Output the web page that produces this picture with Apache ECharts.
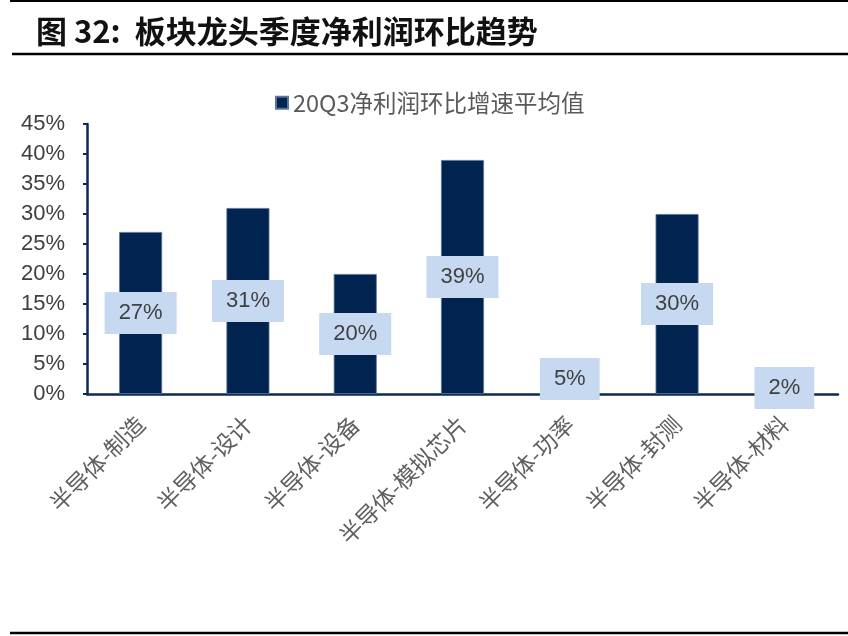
<!DOCTYPE html>
<html><head><meta charset="utf-8">
<script src="https://cdn.jsdelivr.net/npm/echarts@6/dist/echarts.min.js"></script>
<style>html,body{margin:0;padding:0;background:#fff}#c{width:848px;height:636px}</style>
</head><body><div id="c"></div>
<script>
const categories = ['半导体-制造','半导体-设计','半导体-设备','半导体-模拟芯片','半导体-功率','半导体-封测','半导体-材料'];
const values = [27, 31, 20, 39, 5, 30, 2];
const seriesName = '20Q3净利润环比增速平均值';
const yTicks = [0, 5, 10, 15, 20, 25, 30, 35, 40, 45];

const chart = echarts.init(document.getElementById('c'));
chart.setOption({
  animation: false,
  backgroundColor: '#fff',
  title: {
    text: '图 32:  板块龙头季度净利润环比趋势',
    left: 31, top: 11,
    textStyle: {fontFamily: 'Noto Sans CJK SC', fontWeight: 'bold', fontSize: 31, color: '#111'}
  },
  graphic: [
    {type: 'line', shape: {x1: 10, y1: 1, x2: 848, y2: 1}, style: {stroke: '#000', lineWidth: 2}},
    {type: 'line', shape: {x1: 12, y1: 54, x2: 848, y2: 54}, style: {stroke: '#000', lineWidth: 2.5}},
    {type: 'line', shape: {x1: 10, y1: 633, x2: 848, y2: 633}, style: {stroke: '#000', lineWidth: 2.5}}
  ],
  legend: {
    left: 270, top: 86,
    icon: 'rect', itemWidth: 12, itemHeight: 12, itemGap: 4,
    textStyle: {fontFamily: 'Noto Sans CJK SC', fontSize: 23.5, color: '#595959'},
    data: [seriesName]
  },
  grid: {left: 87, right: 10, top: 124, bottom: 242},
  xAxis: {
    type: 'category', data: categories,
    axisLine: {lineStyle: {color: '#0b2a5a', width: 2.5}},
    axisTick: {show: false},
    axisLabel: {rotate: 45, interval: 0, margin: 26, fontFamily: 'Noto Sans CJK SC', fontSize: 23, color: '#5f5f5f'}
  },
  yAxis: {
    type: 'value', min: 0, max: 45, interval: 5,
    splitLine: {show: false},
    axisLine: {show: true, lineStyle: {color: '#0b2a5a', width: 2.5}},
    axisTick: {show: true, length: 4, lineStyle: {color: '#0b2a5a', width: 2}},
    axisLabel: {margin: 22, fontFamily: 'Arial, Liberation Sans', fontSize: 22, color: '#404040',
      formatter: v => yTicks.includes(v) ? v + '%' : ''}
  },
  series: [{
    name: seriesName, type: 'bar', data: values, barWidth: 43,
    itemStyle: {color: '#00234F', borderColor: '#5a7598', borderWidth: 0.8},
    label: {
      show: true, position: 'inside', formatter: p => p.value + '%',
      backgroundColor: '#C6D9F1', padding: [11, 14, 9, 14],
      fontFamily: 'Arial, Liberation Sans', fontSize: 22, color: '#404040'
    }
  }]
});
</script></body></html>
